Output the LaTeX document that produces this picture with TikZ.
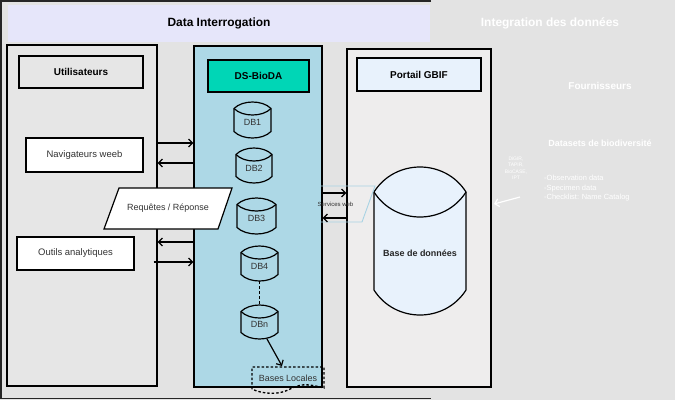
\documentclass[tikz,border=0pt]{standalone}
\usepackage{fontspec}
\setmainfont{Liberation Sans}
\usetikzlibrary{arrows.meta}
\definecolor{bgc}{HTML}{E3E3E3}
\definecolor{lav}{HTML}{E6E6FA}
\definecolor{usr}{HTML}{E6E6E6}
\definecolor{dsb}{HTML}{ADD8E6}
\definecolor{teal2}{HTML}{00D6B6}
\definecolor{gbif}{HTML}{EEEDED}
\definecolor{pale}{HTML}{E8F2FC}
\definecolor{txt}{HTML}{333333}
\definecolor{swline}{HTML}{A8D3E4}
\newcommand\fs[1]{\fontsize{#1}{#1}\selectfont}
\newcommand\dbcyl[8]{%
  \pgfmathsetmacro\cylxl{#2-#4/2}\pgfmathsetmacro\cylxr{#2+#4/2}%
  \pgfmathsetmacro\cylxa{#2-#4/2+0.23*#4}\pgfmathsetmacro\cylxb{#2+#4/2-0.23*#4}%
  \pgfmathsetmacro\cylyt{#3-#5/2+#6}\pgfmathsetmacro\cylyb{#3+#5/2-#6}%
  \pgfmathsetmacro\cylyu{\cylyt-4/3*#6}\pgfmathsetmacro\cylyd{\cylyt+4/3*#6}%
  \pgfmathsetmacro\cylybd{\cylyb+4/3*#6}%
  \draw[fill=#8, line width=1.2bp] (\cylxl,\cylyt) -- (\cylxl,\cylyb)
     .. controls (\cylxa,\cylybd) and (\cylxb,\cylybd) .. (\cylxr,\cylyb)
     -- (\cylxr,\cylyt)
     .. controls (\cylxb,\cylyu) and (\cylxa,\cylyu) .. (\cylxl,\cylyt) -- cycle;
  \draw[line width=1.2bp] (\cylxl,\cylyt) .. controls (\cylxa,\cylyd) and (\cylxb,\cylyd) .. (\cylxr,\cylyt);
  \node[inner sep=0, minimum width=#4 bp, minimum height=#5 bp] (#1) at (#2,#3) {};
  \node[inner sep=0, text=txt, font=\fs{9}] (#1L) at (#2,{#3+2.5}) {#7};
}
\tikzset{
  box/.style={draw=black, line width=1.2bp, inner sep=0, text=black},
  arr/.style={-{Straight Barb[length=4bp,width=8bp]}, line width=1.2bp},
  hdr/.style={font=\fs{10}\bfseries},
  lbl/.style={font=\fs{9.5}, text=txt},
}
\begin{document}
\begin{tikzpicture}[x=1bp,y=-1bp]
\useasboundingbox (0,0) rectangle (675,400);
\fill[bgc] (0,0) rectangle (675,400);
% left frame
\draw[line width=1.5bp, black!85] (431,1) -- (1,1) -- (1,398.5) -- (431,398.5);
\node[fill=lav, inner sep=0, minimum width=422bp, minimum height=37bp, font=\fs{12}\bfseries] (hdrL) at (219,23.5) {Data Interrogation};
\node[font=\fs{12}\bfseries, text=white] (hdrR) at (550,23.5) {Integration des données};

% Utilisateurs
\node[box, fill=usr, minimum width=150bp, minimum height=341bp] (users) at (82,215.5) {};
\node[box, fill=usr, minimum width=124bp, minimum height=32bp, hdr] (usersT) at (81,72) {Utilisateurs};
\node[box, fill=white, minimum width=117bp, minimum height=34bp, lbl] (nav) at (84.5,155) {Navigateurs weeb};
\node[box, fill=white, minimum width=117bp, minimum height=33bp, lbl] (outils) at (75.5,253.5) {Outils analytiques};

% DS-BioDA
\node[box, fill=dsb, minimum width=128bp, minimum height=341bp] (dsbox) at (258,216.5) {};
\node[box, fill=teal2, minimum width=101bp, minimum height=32bp, hdr] (dsbT) at (258.5,76) {DS-BioDA};
\dbcyl{db1}{252.5}{120}{37}{36}{6.5}{DB1}{dsb}
\dbcyl{db2}{254}{165.5}{36}{35}{6.5}{DB2}{dsb}
\dbcyl{db3}{256.5}{216}{39}{36}{6.5}{DB3}{dsb}
\dbcyl{db4}{259.5}{263.5}{37}{35}{6.5}{DB4}{dsb}
\dbcyl{dbn}{259.5}{322}{37}{34}{6.5}{DBn}{dsb}
\draw[line width=1.3bp, dash pattern=on 3bp off 2bp] (db4.south) -- (dbn.north);
\node[inner sep=0, minimum width=72bp, minimum height=21bp, font=\fs{9}, text=txt] (bl) at (288,378) {Bases Locales};
\draw[line width=1.3bp, dash pattern=on 2.5bp off 2bp] (252,389) -- (252,367) -- (324,367) -- (324,388)
   .. controls (305,383) and (300,384) .. (288,390) .. controls (278,395) and (262,394) .. (252,389);
\draw[arr] (267,339) -- (282,366);

% Portail GBIF
\node[box, fill=gbif, minimum width=144bp, minimum height=338bp] (portal) at (419,218) {};
\node[box, fill=pale, minimum width=124bp, minimum height=33bp, hdr] (portalT) at (419,74.5) {Portail GBIF};
\dbcyl{base}{420}{241}{92}{148}{25}{}{pale}
\node[font=\fs{9}\bfseries, text=black!85] (baseL) at (420,253) {Base de données};

% arrows users <-> DS-BioDA
\coordinate (ya) at (0,143);
\coordinate (yb) at (0,163);
\coordinate (yc) at (0,242);
\coordinate (yd) at (0,262);
\draw[arr] (users.east |- ya) -- (dsbox.west |- ya);
\draw[arr] (dsbox.west |- yb) -- (users.east |- yb);
\draw[arr] (dsbox.west |- yc) -- (users.east |- yc);
\draw[arr] ([xshift=-4bp]users.east |- yd) -- (dsbox.west |- yd);

% Requetes / Reponse
\draw[fill=white, line width=1.2bp] (119,188) -- (232,188) -- (218,229) -- (104,229) -- cycle;
\node[font=\fs{9}, text=txt] (req) at (168,208.5) {Requêtes / Réponse};

% Services web
\draw[swline, line width=0.9bp] (320,186) -- (375,186) -- (362,222) -- (320,222);
\node[font=\fs{6}, text=txt] (sw) at (335.5,204) {Services web};
\coordinate (ye) at (0,193);
\coordinate (yf) at (0,218);
\draw[arr] (dsbox.east |- ye) -- (portal.west |- ye);
\draw[arr] (portal.west |- yf) -- (dsbox.east |- yf);

% right faded part
\node[font=\fs{10}\bfseries, text=white] (four) at (600,86) {Fournisseurs};
\node[font=\fs{9}\bfseries, text=white] (dsets) at (600,143) {Datasets de biodiversité};
\node[font=\fs{5}, text=white, align=center, inner sep=0] (prot) at (516,168) {DiGIR,\\[1.5bp]TAPIR,\\[1.5bp]BioCASE,\\[1.5bp]IPT};
\node[font=\fs{7.5}, text=white, align=left, anchor=west, inner sep=0] (list) at (544,188.5) {-Observation data\\[2bp]-Specimen data\\[2bp]-Checklist: Name Catalog};
\coordinate (wa) at (520,197);
\coordinate (wb) at (494,204);
\draw[arr, white] (wa) -- (wb);
\end{tikzpicture}
\end{document}
